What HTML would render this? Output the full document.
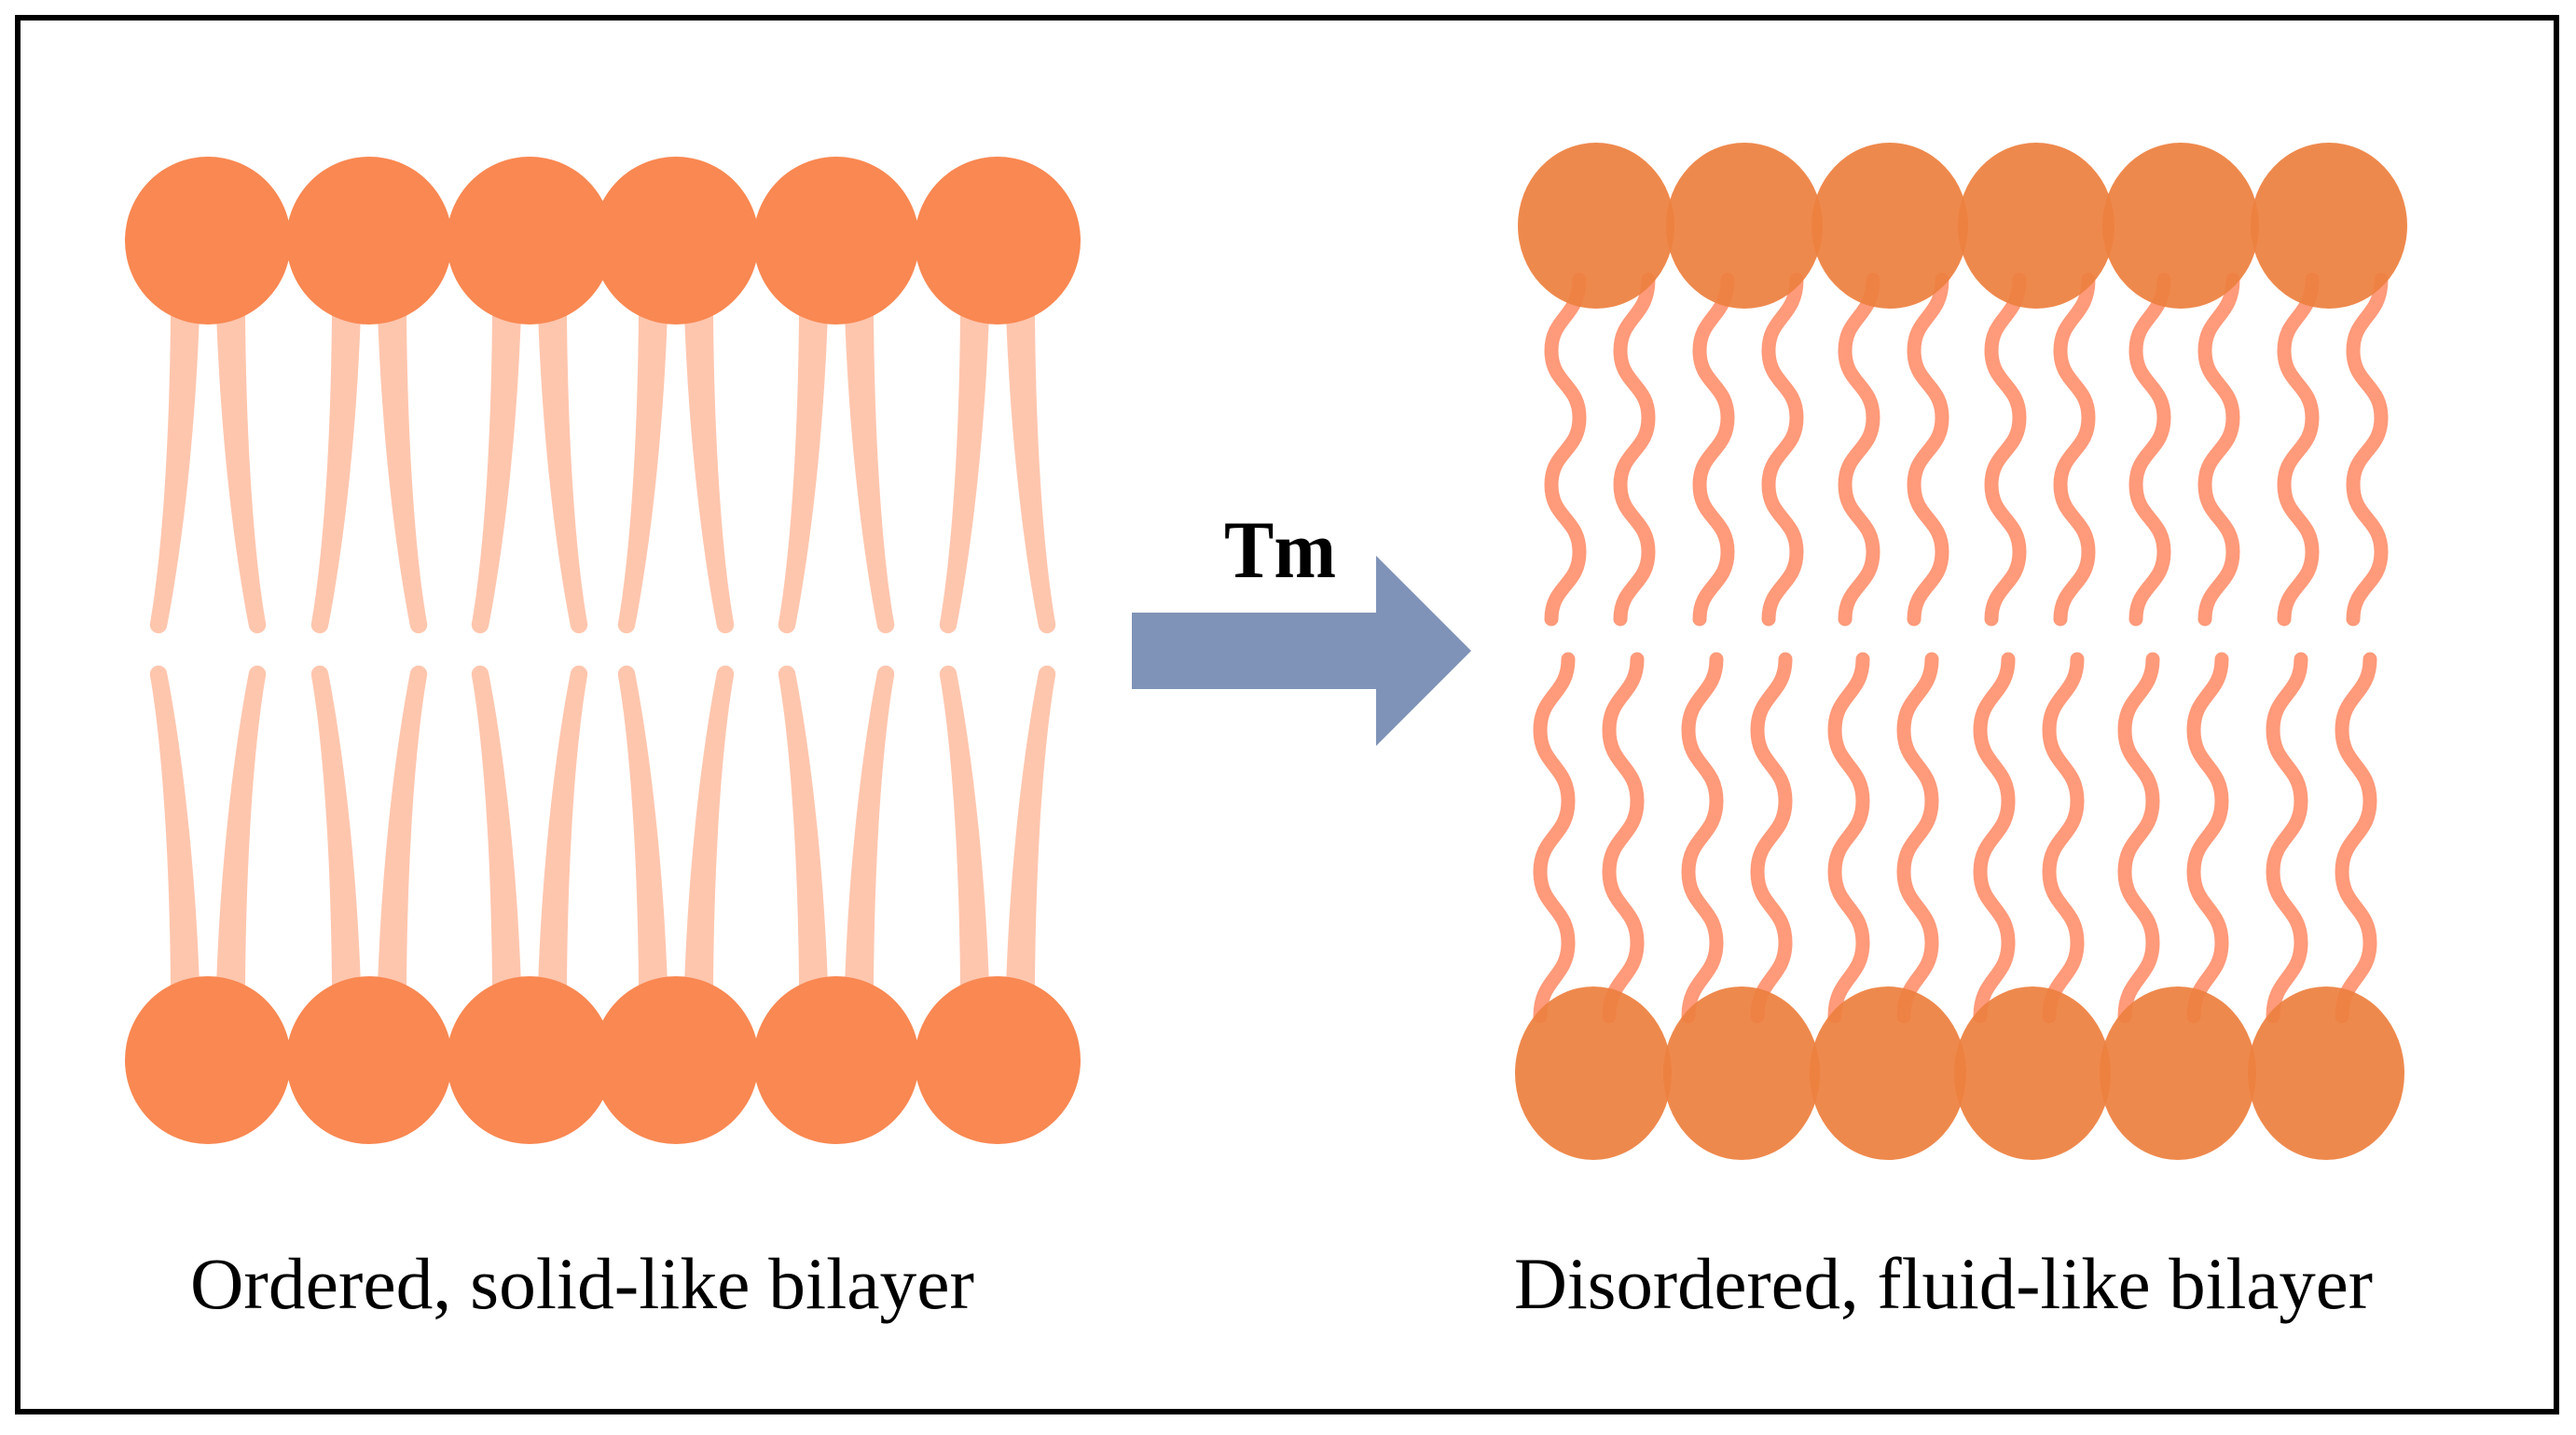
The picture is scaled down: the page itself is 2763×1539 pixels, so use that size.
<!DOCTYPE html>
<html><head><meta charset="utf-8"><style>html,body{margin:0;padding:0;background:#fff}svg{display:block}</style></head>
<body>
<svg width="2763" height="1539" viewBox="0 0 2763 1539" xmlns="http://www.w3.org/2000/svg">
<defs>
  <path id="lt" d="M -40 335 C -41 480 -50 600 -62 668 A 9 9 0 0 0 -44 672 C -30 600 -14 480 -9 335 Z" fill="#FFC6AE"/>
  <g id="lpair"><use href="#lt"/><use href="#lt" transform="scale(-1,1)"/></g>
  <g id="lcol"><use href="#lpair"/><use href="#lpair" transform="translate(0,1393) scale(1,-1)"/></g>
  <path id="rt" d="M 15 300 C 15 340 -15 340 -15 376 S 15 412 15 448 S -15 484 -15 520 S 15 556 15 592 S -15 628 -15 664" fill="none" stroke="#FF9A7A" stroke-width="15" stroke-linecap="round"/>
  <path id="rb" d="M 15 707 C 15 745 -15 745 -15 783 S 15 821 15 859 S -15 897 -15 935 S 15 973 15 1011 S -15 1049 -15 1090" fill="none" stroke="#FF9A7A" stroke-width="15" stroke-linecap="round"/>
</defs>
<rect x="0" y="0" width="2763" height="1539" fill="#fff"/>
<rect x="19" y="19" width="2723" height="1495" fill="none" stroke="#000" stroke-width="6"/>

<!-- left tails -->
<use href="#lcol" x="223"/><use href="#lcol" x="396"/><use href="#lcol" x="568"/>
<use href="#lcol" x="725"/><use href="#lcol" x="897"/><use href="#lcol" x="1070"/>
<!-- left heads -->
<g fill="#F98852">
<ellipse cx="223" cy="258" rx="89" ry="90"/><ellipse cx="396" cy="258" rx="89" ry="90"/><ellipse cx="568" cy="258" rx="89" ry="90"/>
<ellipse cx="725" cy="258" rx="89" ry="90"/><ellipse cx="897" cy="258" rx="89" ry="90"/><ellipse cx="1070" cy="258" rx="89" ry="90"/>
<ellipse cx="223" cy="1137" rx="89" ry="90"/><ellipse cx="396" cy="1137" rx="89" ry="90"/><ellipse cx="568" cy="1137" rx="89" ry="90"/>
<ellipse cx="725" cy="1137" rx="89" ry="90"/><ellipse cx="897" cy="1137" rx="89" ry="90"/><ellipse cx="1070" cy="1137" rx="89" ry="90"/>
</g>

<!-- arrow -->
<polygon points="1214,657 1476,657 1476,596 1578,698 1476,800 1476,739 1214,739" fill="#7F93B8"/>
<text x="1373" y="619" text-anchor="middle" font-family="Liberation Serif, serif" font-weight="bold" font-size="88" textLength="120" lengthAdjust="spacingAndGlyphs">Tm</text>

<!-- right tails -->
<use href="#rt" x="1679"/><use href="#rt" x="1753"/>
<use href="#rt" x="1838"/><use href="#rt" x="1912"/>
<use href="#rt" x="1994"/><use href="#rt" x="2068"/>
<use href="#rt" x="2151"/><use href="#rt" x="2225"/>
<use href="#rt" x="2306"/><use href="#rt" x="2380"/>
<use href="#rt" x="2465"/><use href="#rt" x="2539"/>
<use href="#rb" x="1667"/><use href="#rb" x="1741"/>
<use href="#rb" x="1826"/><use href="#rb" x="1900"/>
<use href="#rb" x="1983"/><use href="#rb" x="2057"/>
<use href="#rb" x="2139"/><use href="#rb" x="2213"/>
<use href="#rb" x="2294"/><use href="#rb" x="2368"/>
<use href="#rb" x="2453"/><use href="#rb" x="2527"/>

<!-- right heads -->
<g fill="#ED803F" fill-opacity="0.93">
<ellipse cx="1712" cy="242" rx="84" ry="89"/><ellipse cx="1871" cy="242" rx="84" ry="89"/><ellipse cx="2027" cy="242" rx="84" ry="89"/>
<ellipse cx="2184" cy="242" rx="84" ry="89"/><ellipse cx="2339" cy="242" rx="84" ry="89"/><ellipse cx="2498" cy="242" rx="84" ry="89"/>
<ellipse cx="1709" cy="1151" rx="84" ry="93"/><ellipse cx="1868" cy="1151" rx="84" ry="93"/><ellipse cx="2025" cy="1151" rx="84" ry="93"/>
<ellipse cx="2180" cy="1151" rx="84" ry="93"/><ellipse cx="2336" cy="1151" rx="84" ry="93"/><ellipse cx="2495" cy="1151" rx="84" ry="93"/>
</g>

<text x="204" y="1403" font-family="Liberation Serif, serif" font-size="78" textLength="841" lengthAdjust="spacingAndGlyphs">Ordered, solid-like bilayer</text>
<text x="1624" y="1403" font-family="Liberation Serif, serif" font-size="78" textLength="921" lengthAdjust="spacingAndGlyphs">Disordered, fluid-like bilayer</text>
</svg>
</body></html>
